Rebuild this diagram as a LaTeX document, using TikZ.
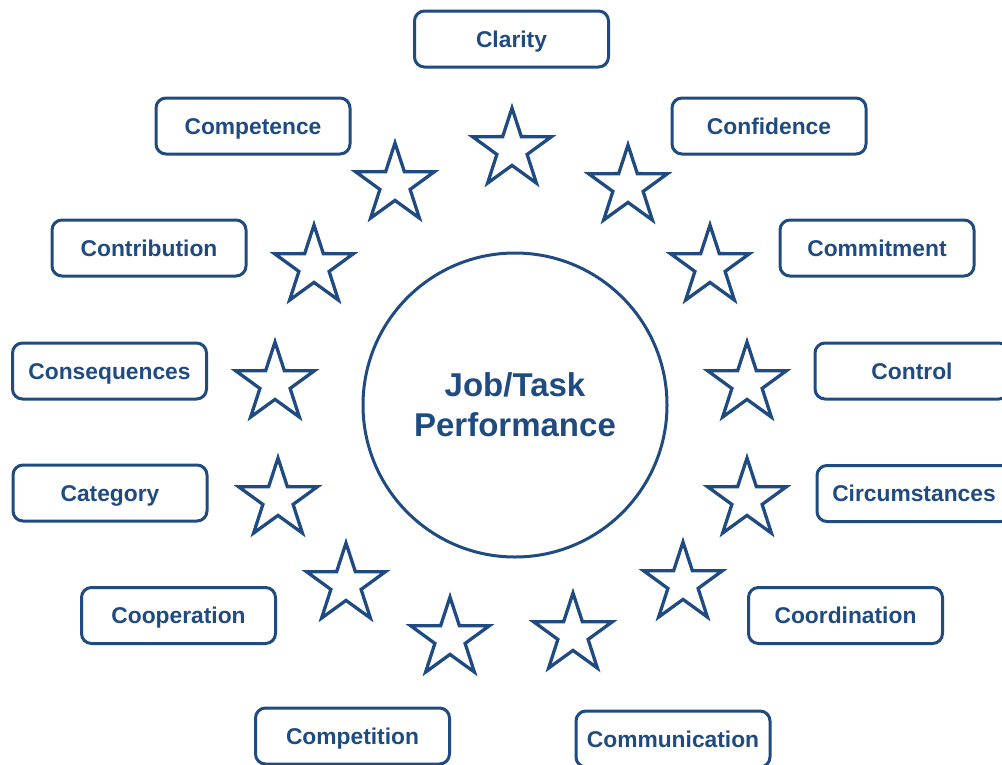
\documentclass[tikz,border=0pt]{standalone}
\usepackage{fontspec}
\setmainfont{Liberation Sans}
\definecolor{navy}{RGB}{31,75,128}
\tikzset{
  lbl/.style={draw=navy, line width=3pt, rounded corners=10pt, minimum width=194pt, minimum height=56pt,
    inner sep=0pt, text height=16.5pt, text depth=0pt, text=navy, font=\bfseries\fontsize{22.8}{26}\selectfont},
  hub/.style={draw=navy, line width=3pt, circle, minimum size=304pt, inner sep=0pt, text=navy,
    align=center, font=\bfseries\fontsize{33}{40}\selectfont},
  starline/.style={draw=navy, line width=3.3pt, line join=miter},
  fivestar/.pic={\path[starline] (-90:41.5) -- (-54:15.9) -- (-18:41.5) -- (18:15.9) -- (54:41.5) -- (90:15.9)
     -- (126:41.5) -- (162:15.9) -- (198:41.5) -- (234:15.9) -- cycle;}
}
\begin{document}
\begin{tikzpicture}[x=1pt,y=-1pt]
\useasboundingbox (0,0) rectangle (1002,764);
\node[hub] (c) at (515,405) {Job/Task\\Performance};
% boxes
\node[lbl] (clarity) at (511.5,39) {Clarity};
\node[lbl] (confidence) at (769,126) {Confidence};
\node[lbl] (competence) at (253,126) {Competence};
\node[lbl] (commitment) at (877,248) {Commitment};
\node[lbl] (contribution) at (149,248) {Contribution};
\node[lbl] (control) at (912,371) {Control};
\node[lbl] (consequences) at (109.5,371) {Consequences};
\node[lbl] (circumstances) at (914,493.5) {Circumstances};
\node[lbl] (category) at (110,493) {Category};
\node[lbl] (coordination) at (845.5,615.5) {Coordination};
\node[lbl] (cooperation) at (178.5,615.5) {Cooperation};
\node[lbl] (competition) at (352.5,736) {Competition};
\node[lbl] (communication) at (673,739) {Communication};
% stars
\pic (s1) at (512,149.5) {fivestar};
\pic (s2) at (628,186.5) {fivestar};
\pic (s3) at (710,266.5) {fivestar};
\pic (s4) at (747,383.5) {fivestar};
\pic (s5) at (747,499.5) {fivestar};
\pic (s6) at (683,583.5) {fivestar};
\pic (s7) at (573,634.5) {fivestar};
\pic (s8) at (450,638.5) {fivestar};
\pic (s9) at (346,584.5) {fivestar};
\pic (s10) at (278,499.5) {fivestar};
\pic (s11) at (275,383.5) {fivestar};
\pic (s12) at (314,266.5) {fivestar};
\pic (s13) at (395,184.5) {fivestar};
\end{tikzpicture}
\end{document}
